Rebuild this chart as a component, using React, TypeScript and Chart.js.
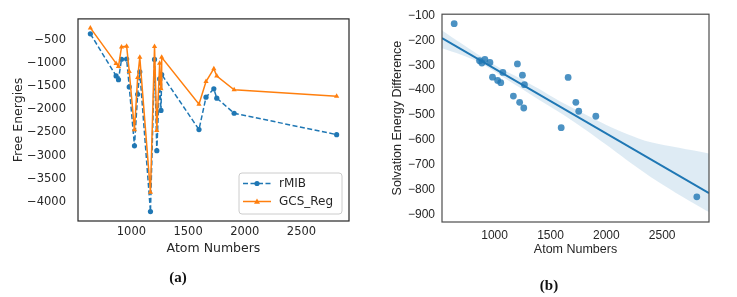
import React, { useEffect, useRef } from 'react';
import { Chart, registerables } from 'chart.js';

Chart.register(...registerables);

// ---------- data ----------
const atomNumbers = [638, 865, 886, 913, 958, 981, 1027, 1055, 1074, 1168, 1204, 1224, 1249, 1261, 1267, 1596, 1658, 1727, 1753, 1906, 2810];
const rmibValues = [-372, -1280, -1362, -920, -915, -1517, -2789, -1676, -1192, -4207, -925, -2893, -1346, -2025, -1250, -2438, -1739, -1558, -1760, -2085, -2547];
const gcsRegValues = [-244, -1010, -1078, -655, -638, -1185, -2443, -1316, -880, -3792, -645, -2457, -1006, -1558, -880, -1890, -1401, -1123, -1282, -1579, -1717];
const energyDiff = [-133, -282, -291, -277, -289, -348, -361, -370, -329, -424, -295, -449, -340, -472, -378, -551, -349, -449, -485, -505, -829];

// confidence band
const bandX = [529, 700, 868, 1050, 1225, 1400, 1583, 1800, 2000, 2179, 2400, 2650, 2919];
const bandUpper = [-160, -212, -262, -312, -352, -396, -445, -495, -540, -575, -610, -632, -655];
const bandLower = [-232, -258, -290, -340, -390, -440, -490, -555, -620, -680, -750, -820, -890];

const xTicks = [1000, 1500, 2000, 2500];
const yTicksA = [-500, -1000, -1500, -2000, -2500, -3000, -3500, -4000];
const yTicksB = [-100, -200, -300, -400, -500, -600, -700, -800, -900];

const X_MIN = 529;
const X_MAX = 2919;

const TEXT = '#262626';
const BLUE = '#1f77b4';
const ORANGE = '#ff7f0e';
const FONT_A = '"DejaVu Sans", sans-serif';
const FONT_B = '"Liberation Sans", Arial, sans-serif';

const fmt = (v: any) => String(v).replace('-', '\u2212');

const framePlugin = {
  id: 'frame',
  afterDraw(chart: any, _args: any, opts: any) {
    const { ctx, chartArea: a } = chart;
    ctx.save();
    ctx.strokeStyle = opts.color;
    ctx.lineWidth = opts.width;
    ctx.strokeRect(a.left, a.top, a.right - a.left, a.bottom - a.top);
    ctx.restore();
  },
};

const legendPlugin = {
  id: 'innerLegend',
  afterDraw(chart: any) {
    const { ctx } = chart;
    const x0 = 239, y0 = 173, w = 103, h = 41, r = 3;
    ctx.save();
    ctx.beginPath();
    ctx.moveTo(x0 + r, y0);
    ctx.arcTo(x0 + w, y0, x0 + w, y0 + h, r);
    ctx.arcTo(x0 + w, y0 + h, x0, y0 + h, r);
    ctx.arcTo(x0, y0 + h, x0, y0, r);
    ctx.arcTo(x0, y0, x0 + w, y0, r);
    ctx.closePath();
    ctx.fillStyle = 'rgba(255,255,255,0.85)';
    ctx.fill();
    ctx.strokeStyle = '#cccccc';
    ctx.lineWidth = 1;
    ctx.stroke();

    const entries = [
      { label: 'rMIB', color: BLUE, dash: [5, 2.5], marker: 'circle', y: 183.5 },
      { label: 'GCS_Reg', color: ORANGE, dash: [], marker: 'triangle', y: 201.5 },
    ];
    entries.forEach((e) => {
      ctx.beginPath();
      ctx.setLineDash(e.dash);
      ctx.strokeStyle = e.color;
      ctx.lineWidth = 1.5;
      ctx.moveTo(243, e.y);
      ctx.lineTo(271, e.y);
      ctx.stroke();
      ctx.setLineDash([]);
      ctx.fillStyle = e.color;
      ctx.beginPath();
      if (e.marker === 'circle') {
        ctx.arc(257, e.y, 2.6, 0, Math.PI * 2);
      } else {
        ctx.moveTo(257, e.y - 3);
        ctx.lineTo(260, e.y + 2.2);
        ctx.lineTo(254, e.y + 2.2);
        ctx.closePath();
      }
      ctx.fill();
      ctx.fillStyle = TEXT;
      ctx.font = '12px ' + FONT_A;
      ctx.textBaseline = 'middle';
      ctx.textAlign = 'left';
      ctx.fillText(e.label, 279, e.y);
    });
    ctx.restore();
  },
};

function linearFit(xs: number[], ys: number[]) {
  const n = xs.length;
  const mx = xs.reduce((s, v) => s + v, 0) / n;
  const my = ys.reduce((s, v) => s + v, 0) / n;
  let sxy = 0, sxx = 0;
  for (let i = 0; i < n; i++) {
    sxy += (xs[i] - mx) * (ys[i] - my);
    sxx += (xs[i] - mx) * (xs[i] - mx);
  }
  const slope = sxy / sxx;
  return { slope, intercept: my - slope * mx };
}

export default function App() {
  const refA = useRef<HTMLCanvasElement>(null);
  const refB = useRef<HTMLCanvasElement>(null);

  useEffect(() => {
    const chartA = new Chart(refA.current as HTMLCanvasElement, {
      type: 'line',
      data: {
        datasets: [
          {
            label: 'rMIB',
            data: atomNumbers.map((x, i) => ({ x, y: rmibValues[i] })),
            borderColor: BLUE,
            borderWidth: 1.5,
            borderDash: [5, 2.5],
            pointStyle: 'circle',
            pointRadius: 2.6,
            pointBackgroundColor: BLUE,
            pointBorderColor: BLUE,
            pointBorderWidth: 0,
            tension: 0,
            order: 1,
          } as any,
          {
            label: 'GCS_Reg',
            data: atomNumbers.map((x, i) => ({ x, y: gcsRegValues[i] })),
            borderColor: ORANGE,
            borderWidth: 1.5,
            pointStyle: 'triangle',
            pointRadius: 3,
            pointBackgroundColor: ORANGE,
            pointBorderColor: ORANGE,
            pointBorderWidth: 0,
            tension: 0,
            order: 0,
          } as any,
        ],
      },
      options: {
        animation: false,
        responsive: false,
        devicePixelRatio: 1,
        layout: { padding: { left: 0, top: 11, right: 21, bottom: 0 } },
        plugins: {
          legend: { display: false },
          tooltip: { enabled: false },
          frame: { color: '#262626', width: 1.2 },
        } as any,
        scales: {
          x: {
            type: 'linear',
            min: X_MIN,
            max: X_MAX,
            grid: { display: false, drawTicks: false },
            border: { display: false },
            afterBuildTicks: (s: any) => { s.ticks = xTicks.map((v) => ({ value: v })); },
            afterFit: (s: any) => { s.height = 76; },
            ticks: { font: { family: FONT_A, size: 11.5 }, color: TEXT, padding: 4, maxRotation: 0, callback: fmt },
            title: { display: true, text: 'Atom Numbers', font: { family: FONT_A, size: 12.5 }, color: TEXT, padding: { top: 0, bottom: 41 } },
          },
          y: {
            type: 'linear',
            min: -4410,
            max: -50,
            grid: { display: false, drawTicks: false },
            border: { display: false },
            afterBuildTicks: (s: any) => { s.ticks = yTicksA.map((v) => ({ value: v })); },
            afterFit: (s: any) => { s.width = 78; },
            ticks: { font: { family: FONT_A, size: 11.5 }, color: TEXT, padding: 12, callback: fmt },
            title: { display: true, text: 'Free Energies', font: { family: FONT_A, size: 12.5 }, color: TEXT, padding: { top: 11, bottom: 0 } },
          },
        },
      } as any,
      plugins: [framePlugin, legendPlugin],
    });

    const fit = linearFit(atomNumbers, energyDiff);
    const chartB = new Chart(refB.current as HTMLCanvasElement, {
      type: 'line',
      data: {
        datasets: [
          {
            label: 'lower',
            data: bandX.map((x, i) => ({ x, y: bandLower[i] })),
            borderWidth: 0,
            borderColor: 'rgba(0,0,0,0)',
            pointRadius: 0,
            fill: false,
            tension: 0.3,
            order: 3,
          } as any,
          {
            label: 'upper',
            data: bandX.map((x, i) => ({ x, y: bandUpper[i] })),
            borderWidth: 0,
            borderColor: 'rgba(0,0,0,0)',
            backgroundColor: 'rgba(31,119,180,0.15)',
            pointRadius: 0,
            fill: '-1',
            tension: 0.3,
            order: 2,
          } as any,
          {
            label: 'fit',
            data: [X_MIN, X_MAX].map((x) => ({ x, y: fit.intercept + fit.slope * x })),
            borderColor: BLUE,
            borderWidth: 2,
            pointRadius: 0,
            fill: false,
            order: 0,
          } as any,
          {
            type: 'scatter',
            label: 'points',
            data: atomNumbers.map((x, i) => ({ x, y: energyDiff[i] })),
            backgroundColor: 'rgba(31,119,180,0.8)',
            borderWidth: 0,
            pointRadius: 3.4,
            order: 1,
          } as any,
        ],
      },
      options: {
        animation: false,
        responsive: false,
        devicePixelRatio: 1,
        layout: { padding: { left: 0, top: 14, right: 28, bottom: 0 } },
        plugins: {
          legend: { display: false },
          tooltip: { enabled: false },
          frame: { color: '#4d4d4d', width: 1.2 },
        } as any,
        scales: {
          x: {
            type: 'linear',
            min: X_MIN,
            max: X_MAX,
            grid: { display: false, drawTicks: false },
            border: { display: false },
            afterBuildTicks: (s: any) => { s.ticks = xTicks.map((v) => ({ value: v })); },
            afterFit: (s: any) => { s.height = 75; },
            ticks: { font: { family: FONT_B, size: 12 }, color: TEXT, padding: 6, maxRotation: 0, callback: fmt },
            title: { display: true, text: 'Atom Numbers', font: { family: FONT_B, size: 12.5 }, color: TEXT, padding: { top: 0, bottom: 40 } },
          },
          y: {
            type: 'linear',
            min: -930,
            max: -95,
            grid: { display: false, drawTicks: false },
            border: { display: false },
            afterBuildTicks: (s: any) => { s.ticks = yTicksB.map((v) => ({ value: v })); },
            afterFit: (s: any) => { s.width = 72; },
            ticks: { font: { family: FONT_B, size: 12 }, color: TEXT, padding: 7, callback: fmt },
            title: { display: true, text: 'Solvation Energy Difference', font: { family: FONT_B, size: 12.5 }, color: TEXT, padding: { top: 20, bottom: 0 } },
          },
        },
      } as any,
      plugins: [framePlugin],
    });

    return () => {
      chartA.destroy();
      chartB.destroy();
    };
  }, []);

  const capStyle: React.CSSProperties = {
    position: 'absolute',
    fontFamily: '"Liberation Serif", "Times New Roman", serif',
    fontWeight: 'bold',
    fontSize: 15,
    color: '#111',
    transform: 'translate(-50%, -50%)',
    whiteSpace: 'nowrap',
  };

  return (
    <div style={{ position: 'fixed', left: 0, top: 0, width: 737, height: 297, background: '#fff', overflow: 'hidden' }}>
      <canvas ref={refA} width={370} height={297} style={{ position: 'absolute', left: 0, top: 0, width: 370, height: 297 }} />
      <canvas ref={refB} width={367} height={297} style={{ position: 'absolute', left: 370, top: 0, width: 367, height: 297 }} />
      <div style={{ ...capStyle, left: 178, top: 277 }}>(a)</div>
      <div style={{ ...capStyle, left: 549, top: 285 }}>(b)</div>
    </div>
  );
}
